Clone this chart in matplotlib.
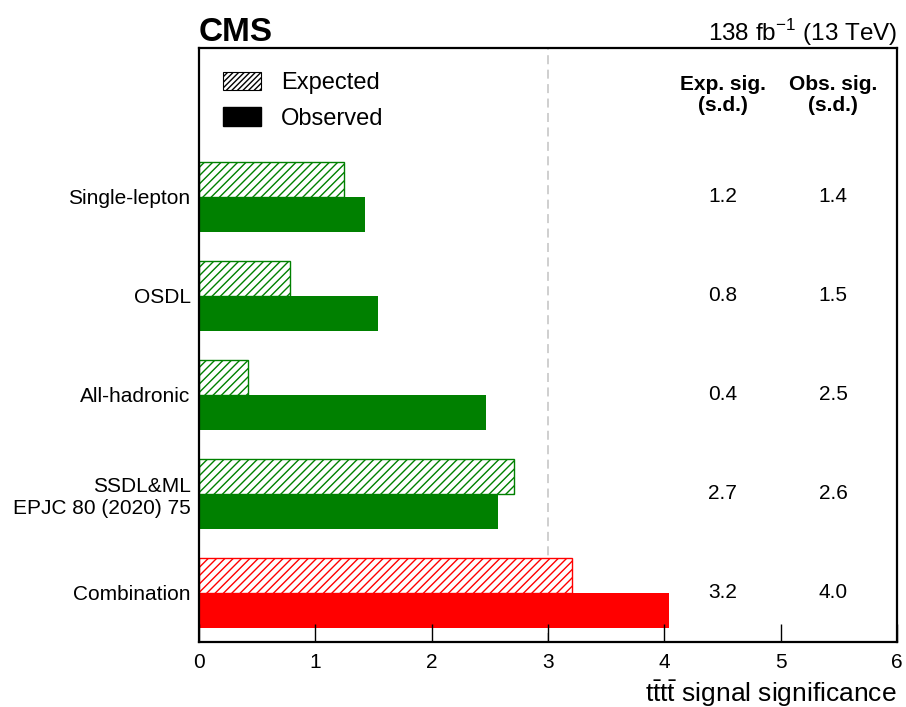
import numpy as np
import matplotlib
matplotlib.use("Agg")
import matplotlib.pyplot as plt
from matplotlib.patches import Patch

plt.rcParams['font.family'] = ['Liberation Sans', 'DejaVu Sans']
plt.rcParams['mathtext.fontset'] = 'custom'
plt.rcParams['mathtext.rm'] = 'Liberation Sans'
plt.rcParams['mathtext.bf'] = 'Liberation Sans:bold'
plt.rcParams['hatch.linewidth'] = 1.0

# data
categories = ['Single-lepton', 'OSDL', 'All-hadronic',
              'SSDL&ML\nEPJC 80 (2020) 75', 'Combination']
expected = [1.25, 0.78, 0.42, 2.71, 3.21]
observed = [1.43, 1.54, 2.47, 2.57, 4.04]
exp_labels = ['1.2', '0.8', '0.4', '2.7', '3.2']
obs_labels = ['1.4', '1.5', '2.5', '2.6', '4.0']
bar_colors = ['#008000', '#008000', '#008000', '#008000', '#ff0000']

fig = plt.figure(figsize=(9.06, 7.07), dpi=100)
ax = fig.add_axes([199 / 906, 1 - 642 / 707, 698 / 906, 594 / 707])

ypos = np.arange(len(categories))[::-1]
h = 0.35

for y, e, o, c in zip(ypos, expected, observed, bar_colors):
    ax.barh(y + h / 2, e, height=h, facecolor='white', edgecolor=c,
            hatch='////', linewidth=1.0)
    ax.barh(y - h / 2, o, height=h, color=c, linewidth=0)

ax.axvline(3, color='#cccccc', linestyle=(0, (5, 3)), linewidth=1.3, zorder=0)

# significance columns
for y, et, ot in zip(ypos, exp_labels, obs_labels):
    ax.text(4.5, y, et, ha='center', va='center', fontsize=15)
    ax.text(5.45, y, ot, ha='center', va='center', fontsize=15)
ax.text(4.5, 5.03, 'Exp. sig.\n(s.d.)', ha='center', va='center',
        fontsize=15, fontweight='bold', linespacing=1.1)
ax.text(5.45, 5.03, 'Obs. sig.\n(s.d.)', ha='center', va='center',
        fontsize=15, fontweight='bold', linespacing=1.1)

ax.set_xlim(0, 6)
ax.set_ylim(-0.495, 5.505)
ax.set_yticks(ypos)
ax.set_yticklabels(categories, fontsize=15)
ax.tick_params(axis='y', length=0, pad=6)
ax.set_xticks(range(7))
ax.tick_params(axis='x', direction='in', length=13, width=1.0,
               labelsize=15, pad=8)
for sp in ax.spines.values():
    sp.set_linewidth(1.6)

ax.set_xlabel(r'$\mathrm{t\bar{t}t\bar{t}}$ signal significance',
              fontsize=19, loc='right', labelpad=4)

handles = [Patch(facecolor='white', edgecolor='black', hatch='//////', linewidth=0.8),
           Patch(facecolor='black', edgecolor='black')]
ax.legend(handles, ['Expected', 'Observed'], loc='upper left', frameon=False,
          fontsize=17, handlelength=1.6, handleheight=0.8, handletextpad=0.85,
          labelspacing=0.55, bbox_to_anchor=(0.004, 0.995))

ax.text(0, 1.0118, 'CMS', transform=ax.transAxes, fontsize=24,
        fontweight='bold', ha='left', va='baseline')
ax.text(1, 1.0118, r'138 fb$^{-1}$ (13 TeV)', transform=ax.transAxes,
        fontsize=17.5, ha='right', va='baseline')

fig.savefig('out.png', dpi=100)
